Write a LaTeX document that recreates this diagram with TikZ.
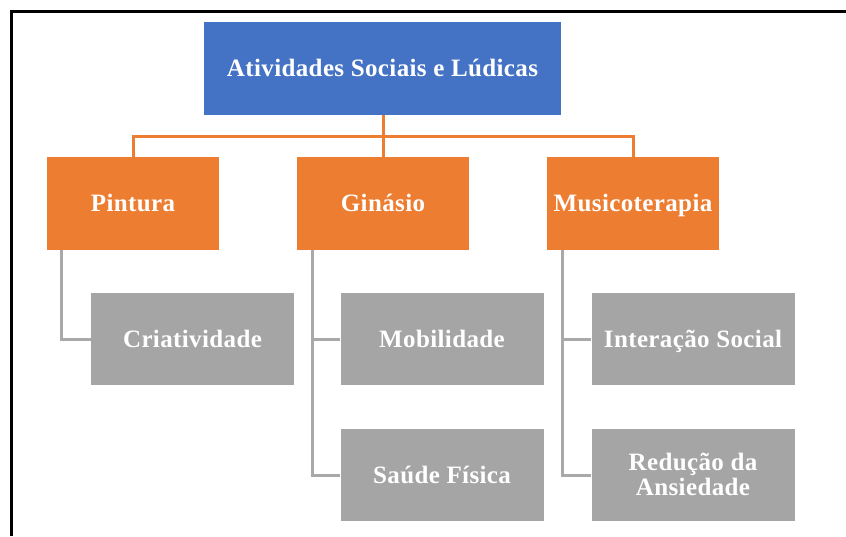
\documentclass[tikz,border=0pt]{standalone}
\usepackage{fontspec}
\setmainfont{Liberation Serif}[LetterSpace=1.5]
\definecolor{cblue}{HTML}{4472C4}
\definecolor{corange}{HTML}{ED7D31}
\definecolor{cgray}{HTML}{A5A5A5}
\definecolor{cline}{HTML}{A9A9A9}
\tikzset{
  box/.style={rectangle, inner sep=0pt, text=white, align=center,
    font=\fontsize{25}{24.5}\selectfont\bfseries, text height=19pt, text depth=2.5pt},
  topbox/.style={box, fill=cblue, minimum width=357pt, minimum height=93pt},
  catbox/.style={box, fill=corange, minimum width=172pt, minimum height=93pt},
  leafbox/.style={box, fill=cgray, minimum width=203pt, minimum height=92pt},
  twoline/.style={text height=43pt, text depth=2.5pt},
  oline/.style={draw=corange, line width=3pt},
  gline/.style={draw=cline, line width=3pt},
}
\begin{document}
\begin{tikzpicture}[x=1pt,y=-1pt]
\useasboundingbox (0,0) rectangle (846,536);
\fill[white] (0,0) rectangle (846,536);
% frame
\draw[line width=3pt, black] (11,536) -- (11,11) -- (846,11);

\node[topbox] (top) at (382.5,68.5) {Atividades Sociais e Lúdicas};

\node[catbox] (p) at (133,203.5) {Pintura};
\node[catbox] (g) at (383,203.5) {Ginásio};
\node[catbox] (m) at (633,203.5) {Musicoterapia};

\node[leafbox] (c) at (192.5,339) {Criatividade};
\node[leafbox] (mo) at (442,339) {Mobilidade};
\node[leafbox] (s) at (442,475) {Saúde Física};
\node[leafbox] (i) at (693,339) {Interação Social};
\node[leafbox, twoline] (r) at (693,475) {Redução da\\Ansiedade};

% orange connectors
\coordinate (j) at (383,136);
\draw[oline] (top.south -| j) -- (j);
\draw[oline] (p.north) -- (p.north |- j) -- (m.north |- j) -- (m.north);
\draw[oline] (g.north -| j) -- (j);

% gray connectors
\draw[gline] ([xshift=15pt]p.south west) |- (c.west);
\draw[gline] ([xshift=16pt]g.south west) |- (s.west);
\draw[gline] ([xshift=16pt]g.south west |- mo.west) -- (mo.west);
\draw[gline] ([xshift=16pt]m.south west) |- (r.west);
\draw[gline] ([xshift=16pt]m.south west |- i.west) -- (i.west);
\end{tikzpicture}
\end{document}
